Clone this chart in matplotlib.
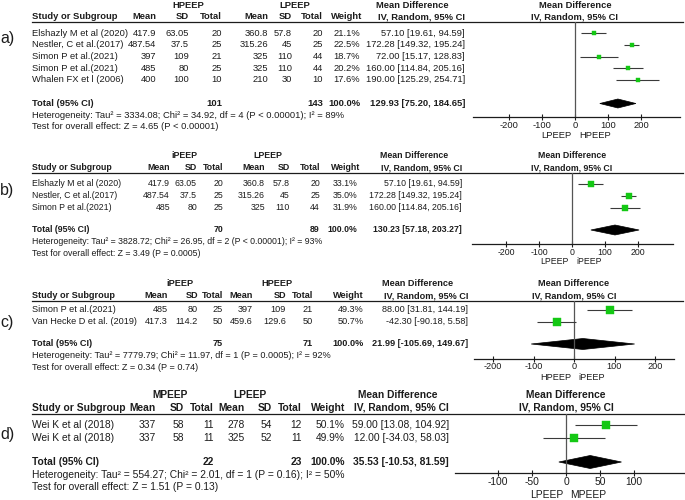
"""Four RevMan-style forest plots (PEEP comparisons), redrawn with matplotlib."""

import math

import matplotlib

matplotlib.use("Agg")
import matplotlib.pyplot as plt
from matplotlib import font_manager
from matplotlib.patches import Polygon
from matplotlib.transforms import offset_copy

W, H = 685, 500

# ---- panel a: HPEEP vs LPEEP ----
a_study = ["Elshazly M et al (2020)", "Nestler, C et al.(2017)", "Simon P et al.(2021)",
           "Simon P et al.(2021)", "Whalen FX et l (2006)"]
a_exp_mean = [417.9, 487.54, 397, 485, 400]
a_exp_sd = [63.05, 37.5, 109, 80, 100]
a_exp_n = [20, 25, 21, 25, 10]
a_ctl_mean = [360.8, 315.26, 325, 325, 210]
a_ctl_sd = [57.8, 45, 110, 110, 30]
a_ctl_n = [20, 25, 44, 44, 10]
a_weight = [21.1, 22.5, 18.7, 20.2, 17.6]
a_md = [57.10, 172.28, 72.00, 160.00, 190.00]
a_lo = [19.61, 149.32, 15.17, 114.84, 125.29]
a_hi = [94.59, 195.24, 128.83, 205.16, 254.71]
a_totals = [101, 143]
a_total_ci = [129.93, 75.20, 184.65]
a_het = "Heterogeneity: Tau\u00b2 = 3334.08; Chi\u00b2 = 34.92, df = 4 (P < 0.00001); I\u00b2 = 89%"
a_test = "Test for overall effect: Z = 4.65 (P < 0.00001)"
a_groups = ["HPEEP", "LPEEP"]
a_direction = ["LPEEP", "HPEEP"]
a_ticks = [-200, -100, 0, 100, 200]

# ---- panel b: iPEEP vs LPEEP ----
b_study = ["Elshazly M et al (2020)", "Nestler, C et al.(2017)", "Simon P et al.(2021)"]
b_exp_mean = [417.9, 487.54, 485]
b_exp_sd = [63.05, 37.5, 80]
b_exp_n = [20, 25, 25]
b_ctl_mean = [360.8, 315.26, 325]
b_ctl_sd = [57.8, 45, 110]
b_ctl_n = [20, 25, 44]
b_weight = [33.1, 35.0, 31.9]
b_md = [57.10, 172.28, 160.00]
b_lo = [19.61, 149.32, 114.84]
b_hi = [94.59, 195.24, 205.16]
b_totals = [70, 89]
b_total_ci = [130.23, 57.18, 203.27]
b_het = "Heterogeneity: Tau\u00b2 = 3828.72; Chi\u00b2 = 26.95, df = 2 (P < 0.00001); I\u00b2 = 93%"
b_test = "Test for overall effect: Z = 3.49 (P = 0.0005)"
b_groups = ["iPEEP", "LPEEP"]
b_direction = ["LPEEP", "iPEEP"]
b_ticks = [-200, -100, 0, 100, 200]

# ---- panel c: iPEEP vs HPEEP ----
c_study = ["Simon P et al.(2021)", "Van Hecke D et al. (2019)"]
c_exp_mean = [485, 417.3]
c_exp_sd = [80, 114.2]
c_exp_n = [25, 50]
c_ctl_mean = [397, 459.6]
c_ctl_sd = [109, 129.6]
c_ctl_n = [21, 50]
c_weight = [49.3, 50.7]
c_md = [88.00, -42.30]
c_lo = [31.81, -90.18]
c_hi = [144.19, 5.58]
c_totals = [75, 71]
c_total_ci = [21.99, -105.69, 149.67]
c_het = "Heterogeneity: Tau\u00b2 = 7779.79; Chi\u00b2 = 11.97, df = 1 (P = 0.0005); I\u00b2 = 92%"
c_test = "Test for overall effect: Z = 0.34 (P = 0.74)"
c_groups = ["iPEEP", "HPEEP"]
c_direction = ["HPEEP", "iPEEP"]
c_ticks = [-200, -100, 0, 100, 200]

# ---- panel d: MPEEP vs LPEEP ----
d_study = ["Wei K et al (2018)", "Wei K et al (2018)"]
d_exp_mean = [337, 337]
d_exp_sd = [58, 58]
d_exp_n = [11, 11]
d_ctl_mean = [278, 325]
d_ctl_sd = [54, 52]
d_ctl_n = [12, 11]
d_weight = [50.1, 49.9]
d_md = [59.00, 12.00]
d_lo = [13.08, -34.03]
d_hi = [104.92, 58.03]
d_totals = [22, 23]
d_total_ci = [35.53, -10.53, 81.59]
d_het = "Heterogeneity: Tau\u00b2 = 554.27; Chi\u00b2 = 2.01, df = 1 (P = 0.16); I\u00b2 = 50%"
d_test = "Test for overall effect: Z = 1.51 (P = 0.13)"
d_groups = ["MPEEP", "LPEEP"]
d_direction = ["LPEEP", "MPEEP"]
d_ticks = [-100, -50, 0, 50, 100]

TOTAL_WEIGHT = 100.0


def panel(label, study, em, es, en, cm, cs, cn, wt, md, lo, hi, totals, tot_ci,
          het, test, groups, direction, ticks):
    return dict(label=label, study=study, exp=(em, es, en), ctl=(cm, cs, cn), weight=wt,
                md=md, lo=lo, hi=hi, totals=totals, tot_ci=tot_ci, het=het, test=test,
                groups=groups, direction=direction, ticks=ticks)


PANELS = [
    panel("a)", a_study, a_exp_mean, a_exp_sd, a_exp_n, a_ctl_mean, a_ctl_sd, a_ctl_n,
          a_weight, a_md, a_lo, a_hi, a_totals, a_total_ci, a_het, a_test,
          a_groups, a_direction, a_ticks),
    panel("b)", b_study, b_exp_mean, b_exp_sd, b_exp_n, b_ctl_mean, b_ctl_sd, b_ctl_n,
          b_weight, b_md, b_lo, b_hi, b_totals, b_total_ci, b_het, b_test,
          b_groups, b_direction, b_ticks),
    panel("c)", c_study, c_exp_mean, c_exp_sd, c_exp_n, c_ctl_mean, c_ctl_sd, c_ctl_n,
          c_weight, c_md, c_lo, c_hi, c_totals, c_total_ci, c_het, c_test,
          c_groups, c_direction, c_ticks),
    panel("d)", d_study, d_exp_mean, d_exp_sd, d_exp_n, d_ctl_mean, d_ctl_sd, d_ctl_n,
          d_weight, d_md, d_lo, d_hi, d_totals, d_total_ci, d_het, d_test,
          d_groups, d_direction, d_ticks),
]

# pixel layout of each panel (rows, columns, forest axis)
LAYOUTS = [
    dict(label_y=38, h1=5, h2=16.7, line=22, r0=33, dr=11.75, total=103.5, het=115,
         test=126.5, axis=117, dir=136, het_w=312, cols=[156, 189, 222, 268, 292, 323],
         w_hdr=362, w_val=360, ci=465, g=(188, 295), md_c=412, zero=575, scale=0.33,
         ax_l=473, ax_r=680, line_r=683, dh=4.5),
    dict(label_y=191, h1=155.5, h2=168, line=173, r0=184, dr=12, total=230, het=242,
         test=254, axis=244, dir=262, het_w=290, cols=[170, 197, 223, 265, 290, 320],
         w_hdr=360, w_val=357, ci=462, g=(184, 268), md_c=414, zero=572, scale=0.33,
         ax_l=472, ax_r=673, line_r=683, dh=5),
    dict(label_y=322, h1=284, h2=296, line=301, r0=310, dr=12, total=344, het=356,
         test=367.5, axis=358.5, dir=378, het_w=298, cols=[168, 198, 223, 253, 286, 313],
         w_hdr=364, w_val=364, ci=468, g=(180, 277), md_c=418, zero=574, scale=0.405,
         ax_l=474, ax_r=674, line_r=683, dh=5.5),
    dict(label_y=435, h1=395, h2=408, line=414, r0=425, dr=12.7, total=462, het=475,
         test=487.5, axis=473, dir=495, het_w=312, cols=[156, 184, 214, 245, 272, 302],
         w_hdr=345, w_val=345, ci=449, g=(170, 250), md_c=398, zero=566, scale=0.68,
         ax_l=455, ax_r=685, line_r=685, dh=6.5),
]

TEXT = "#1c1c1c"
GREEN = "#14c814"
CI_COLOR = "#3a3a3a"
ZERO_COLOR = "#555555"

plt.rcParams["axes.unicode_minus"] = False
available = {f.name for f in font_manager.fontManager.ttflist}
FAMILY = "Liberation Sans" if "Liberation Sans" in available else "DejaVu Sans"
plt.rcParams["font.family"] = [FAMILY, "DejaVu Sans"]

fig = plt.figure(figsize=(W / 100, H / 100), dpi=100)
base = fig.add_axes([0, 0, 1, 1])
base.set_xlim(0, W)
base.set_ylim(H, 0)
base.axis("off")
renderer = fig.canvas.get_renderer()


def fit_size(text, target_px):
    probe = base.text(0, 0, text, fontsize=10)
    width = probe.get_window_extent(renderer).width
    probe.remove()
    return 10 * target_px / width


def draw_panel(p, lay):
    fs = fit_size(p["het"], lay["het_w"])
    x0 = 32

    def put(x, y, s, ha="right", bold=False):
        base.text(x, y, s, ha=ha, va="center", fontsize=fs, color=TEXT,
                  fontweight="bold" if bold else "normal")

    base.text(0, lay["label_y"], p["label"], ha="left", va="center", fontsize=11.5,
              color=TEXT)

    # header block
    put(lay["g"][0], lay["h1"], p["groups"][0], ha="center", bold=True)
    put(lay["g"][1], lay["h1"], p["groups"][1], ha="center", bold=True)
    put(lay["md_c"], lay["h1"], "Mean Difference", ha="center", bold=True)
    put(lay["zero"], lay["h1"], "Mean Difference", ha="center", bold=True)
    put(x0, lay["h2"], "Study or Subgroup", ha="left", bold=True)
    for x, s in zip(lay["cols"], ["Mean", "SD", "Total"] * 2):
        put(x, lay["h2"], s, bold=True)
    put(lay["w_hdr"], lay["h2"], "Weight", bold=True)
    put(lay["ci"], lay["h2"], "IV, Random, 95% CI", bold=True)
    put(lay["zero"], lay["h2"], "IV, Random, 95% CI", ha="center", bold=True)
    base.plot([x0, lay["line_r"]], [lay["line"]] * 2, color=TEXT, lw=0.9)

    # study rows
    rows = [lay["r0"] + k * lay["dr"] for k in range(len(p["study"]))]
    for i, y in enumerate(rows):
        put(x0, y, p["study"][i], ha="left")
        values = [col[i] for col in p["exp"]] + [col[i] for col in p["ctl"]]
        for x, v in zip(lay["cols"], values):
            put(x, y, f"{v:g}")
        put(lay["w_val"], y, f"{p['weight'][i]:.1f}%")
        put(lay["ci"], y, f"{p['md'][i]:.2f} [{p['lo'][i]:.2f}, {p['hi'][i]:.2f}]")

    # pooled row and footnotes
    tm, tl, th = p["tot_ci"]
    put(x0, lay["total"], "Total (95% CI)", ha="left", bold=True)
    put(lay["cols"][2], lay["total"], str(p["totals"][0]), bold=True)
    put(lay["cols"][5], lay["total"], str(p["totals"][1]), bold=True)
    put(lay["w_val"], lay["total"], f"{TOTAL_WEIGHT:.1f}%", bold=True)
    put(lay["ci"], lay["total"], f"{tm:.2f} [{tl:.2f}, {th:.2f}]", bold=True)
    put(x0, lay["het"], p["het"], ha="left")
    put(x0, lay["test"], p["test"], ha="left")

    # forest plot
    left, right, top, bot = lay["ax_l"], lay["ax_r"], lay["line"], lay["axis"]
    ax = fig.add_axes([left / W, 1 - bot / H, (right - left) / W, (bot - top) / H])
    ax.set_xlim((left - lay["zero"]) / lay["scale"], (right - lay["zero"]) / lay["scale"])
    ax.set_ylim(bot, top)
    ax.patch.set_alpha(0)
    for side in ("top", "left", "right"):
        ax.spines[side].set_visible(False)
    ax.spines["bottom"].set_color(TEXT)
    ax.spines["bottom"].set_linewidth(0.9)
    ax.set_yticks([])
    ax.set_xticks(p["ticks"])
    ax.tick_params(axis="x", direction="inout", length=4.3, width=0.8, pad=0.5,
                   labelsize=fs, colors=TEXT)
    ax.axvline(0, color=ZERO_COLOR, lw=0.9)
    ax.hlines(rows, p["lo"], p["hi"], color=CI_COLOR, lw=0.8)
    for x, y, w in zip(p["md"], rows, p["weight"]):
        side = math.sqrt(w) * 1.05 * 0.72
        ax.plot(x, y, marker="s", ms=side, color=GREEN, mec=GREEN, mew=0.3, clip_on=False)
    ty, dh = lay["total"], lay["dh"]
    ax.add_patch(Polygon([(tl, ty), (tm, ty - dh), (th, ty), (tm, ty + dh)],
                         closed=True, facecolor="black", edgecolor="black", lw=0.5))
    shift_l = offset_copy(ax.transData, fig, x=-3, y=0, units="dots")
    shift_r = offset_copy(ax.transData, fig, x=4, y=0, units="dots")
    ax.text(0, lay["dir"], p["direction"][0], transform=shift_l, ha="right", va="center",
            fontsize=fs, color=TEXT, clip_on=False)
    ax.text(0, lay["dir"], p["direction"][1], transform=shift_r, ha="left", va="center",
            fontsize=fs, color=TEXT, clip_on=False)


for p, lay in zip(PANELS, LAYOUTS):
    draw_panel(p, lay)

fig.savefig("out.png", dpi=100)
